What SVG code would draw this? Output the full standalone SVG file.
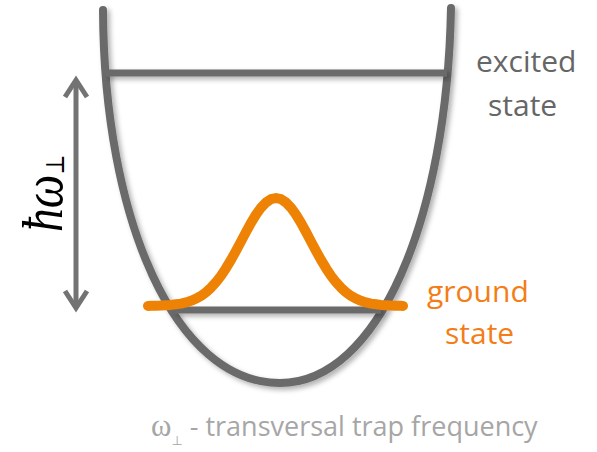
<svg xmlns="http://www.w3.org/2000/svg" width="597" height="452" viewBox="0 0 597 452">
<defs>
<filter id="sh" filterUnits="userSpaceOnUse" x="0" y="0" width="597" height="452">
<feDropShadow dx="3" dy="3" stdDeviation="2.5" flood-color="#000" flood-opacity="0.3"/>
</filter>
</defs>
<style>
.g{fill:none;stroke:#6b6b6b;stroke-linecap:round}
.lvl{fill:none;stroke:#6b6b6b;stroke-width:7}
.arr{fill:none;stroke:#737373;stroke-width:5}
.gauss{fill:none;stroke:#ed8205;stroke-width:10;stroke-linecap:round;stroke-linejoin:round}
.lab{font-family:"Open Sans","Liberation Sans",sans-serif;font-size:30px}
</style>
<rect width="597" height="452" fill="#fff"/>
<g id="well" filter="url(#sh)">
<path class="g" stroke-width="8" d="M103,10 C104,220 175,383 280,383 C378,383 447,220 451,8"/>
</g>
<g id="excited-level" filter="url(#sh)">
<line class="lvl" x1="105" y1="73" x2="447" y2="73"/>
</g>
<g id="ground-level" filter="url(#sh)">
<line class="lvl" x1="174" y1="310" x2="381" y2="310"/>
</g>
<g id="wavefunction">
<polyline class="gauss" points="148,305.9 151,305.8 156,305.7 161,305.6 166,305.3 171,304.9 176,304.3 181,303.6 186,302.4 191,300.8 196,298.7 201,295.9 206,292.2 211,287.7 216,282.2 221,275.7 226,268.2 231,259.9 236,250.8 241,241.5 246,232 251,222.9 256,214.7 261,207.7 266,202.5 271,199.2 276,198 281,199.2 286,202.5 291,207.7 296,214.7 301,222.9 306,232 311,241.5 316,250.8 321,259.9 326,268.2 331,275.7 336,282.2 341,287.7 346,292.2 351,295.9 356,298.7 361,300.8 366,302.4 371,303.6 376,304.3 381,304.9 386,305.3 391,305.6 396,305.7 401,305.8 403,305.9"/>
</g>
<g id="connectors">
<line class="arr" x1="76" y1="81" x2="76" y2="307"/>
<polyline class="arr" points="65,97 76,80 87,97"/>
<polyline class="arr" points="65,291 76,308 87,291"/>
</g>
<g id="hbar-omega">
<text transform="translate(62,232) rotate(-90) scale(0.82,1)" font-family="'Liberation Serif','DejaVu Serif',serif" font-style="italic" font-size="58" fill="#000">ħω<tspan font-style="normal" font-family="'DejaVu Serif',serif" font-size="26" dy="2">⊥</tspan></text>
</g>
<g id="excited-label" fill="#666">
<text class="lab" x="476" y="72">excited</text>
<text class="lab" x="488" y="116">state</text>
</g>
<g id="ground-label" fill="#f47d17">
<text class="lab" x="427" y="302">ground</text>
<text class="lab" x="445" y="344">state</text>
</g>
<g id="caption" fill="#a6a6a6">
<text x="151" y="436" font-family="'Open Sans','Liberation Sans',sans-serif" font-size="27"><tspan font-family="'Liberation Serif',serif" font-size="31">ω</tspan><tspan font-family="'DejaVu Sans',sans-serif" font-size="13" dy="9">⊥</tspan><tspan dy="-9"> - transversal trap frequency</tspan></text>
</g>
</svg>
